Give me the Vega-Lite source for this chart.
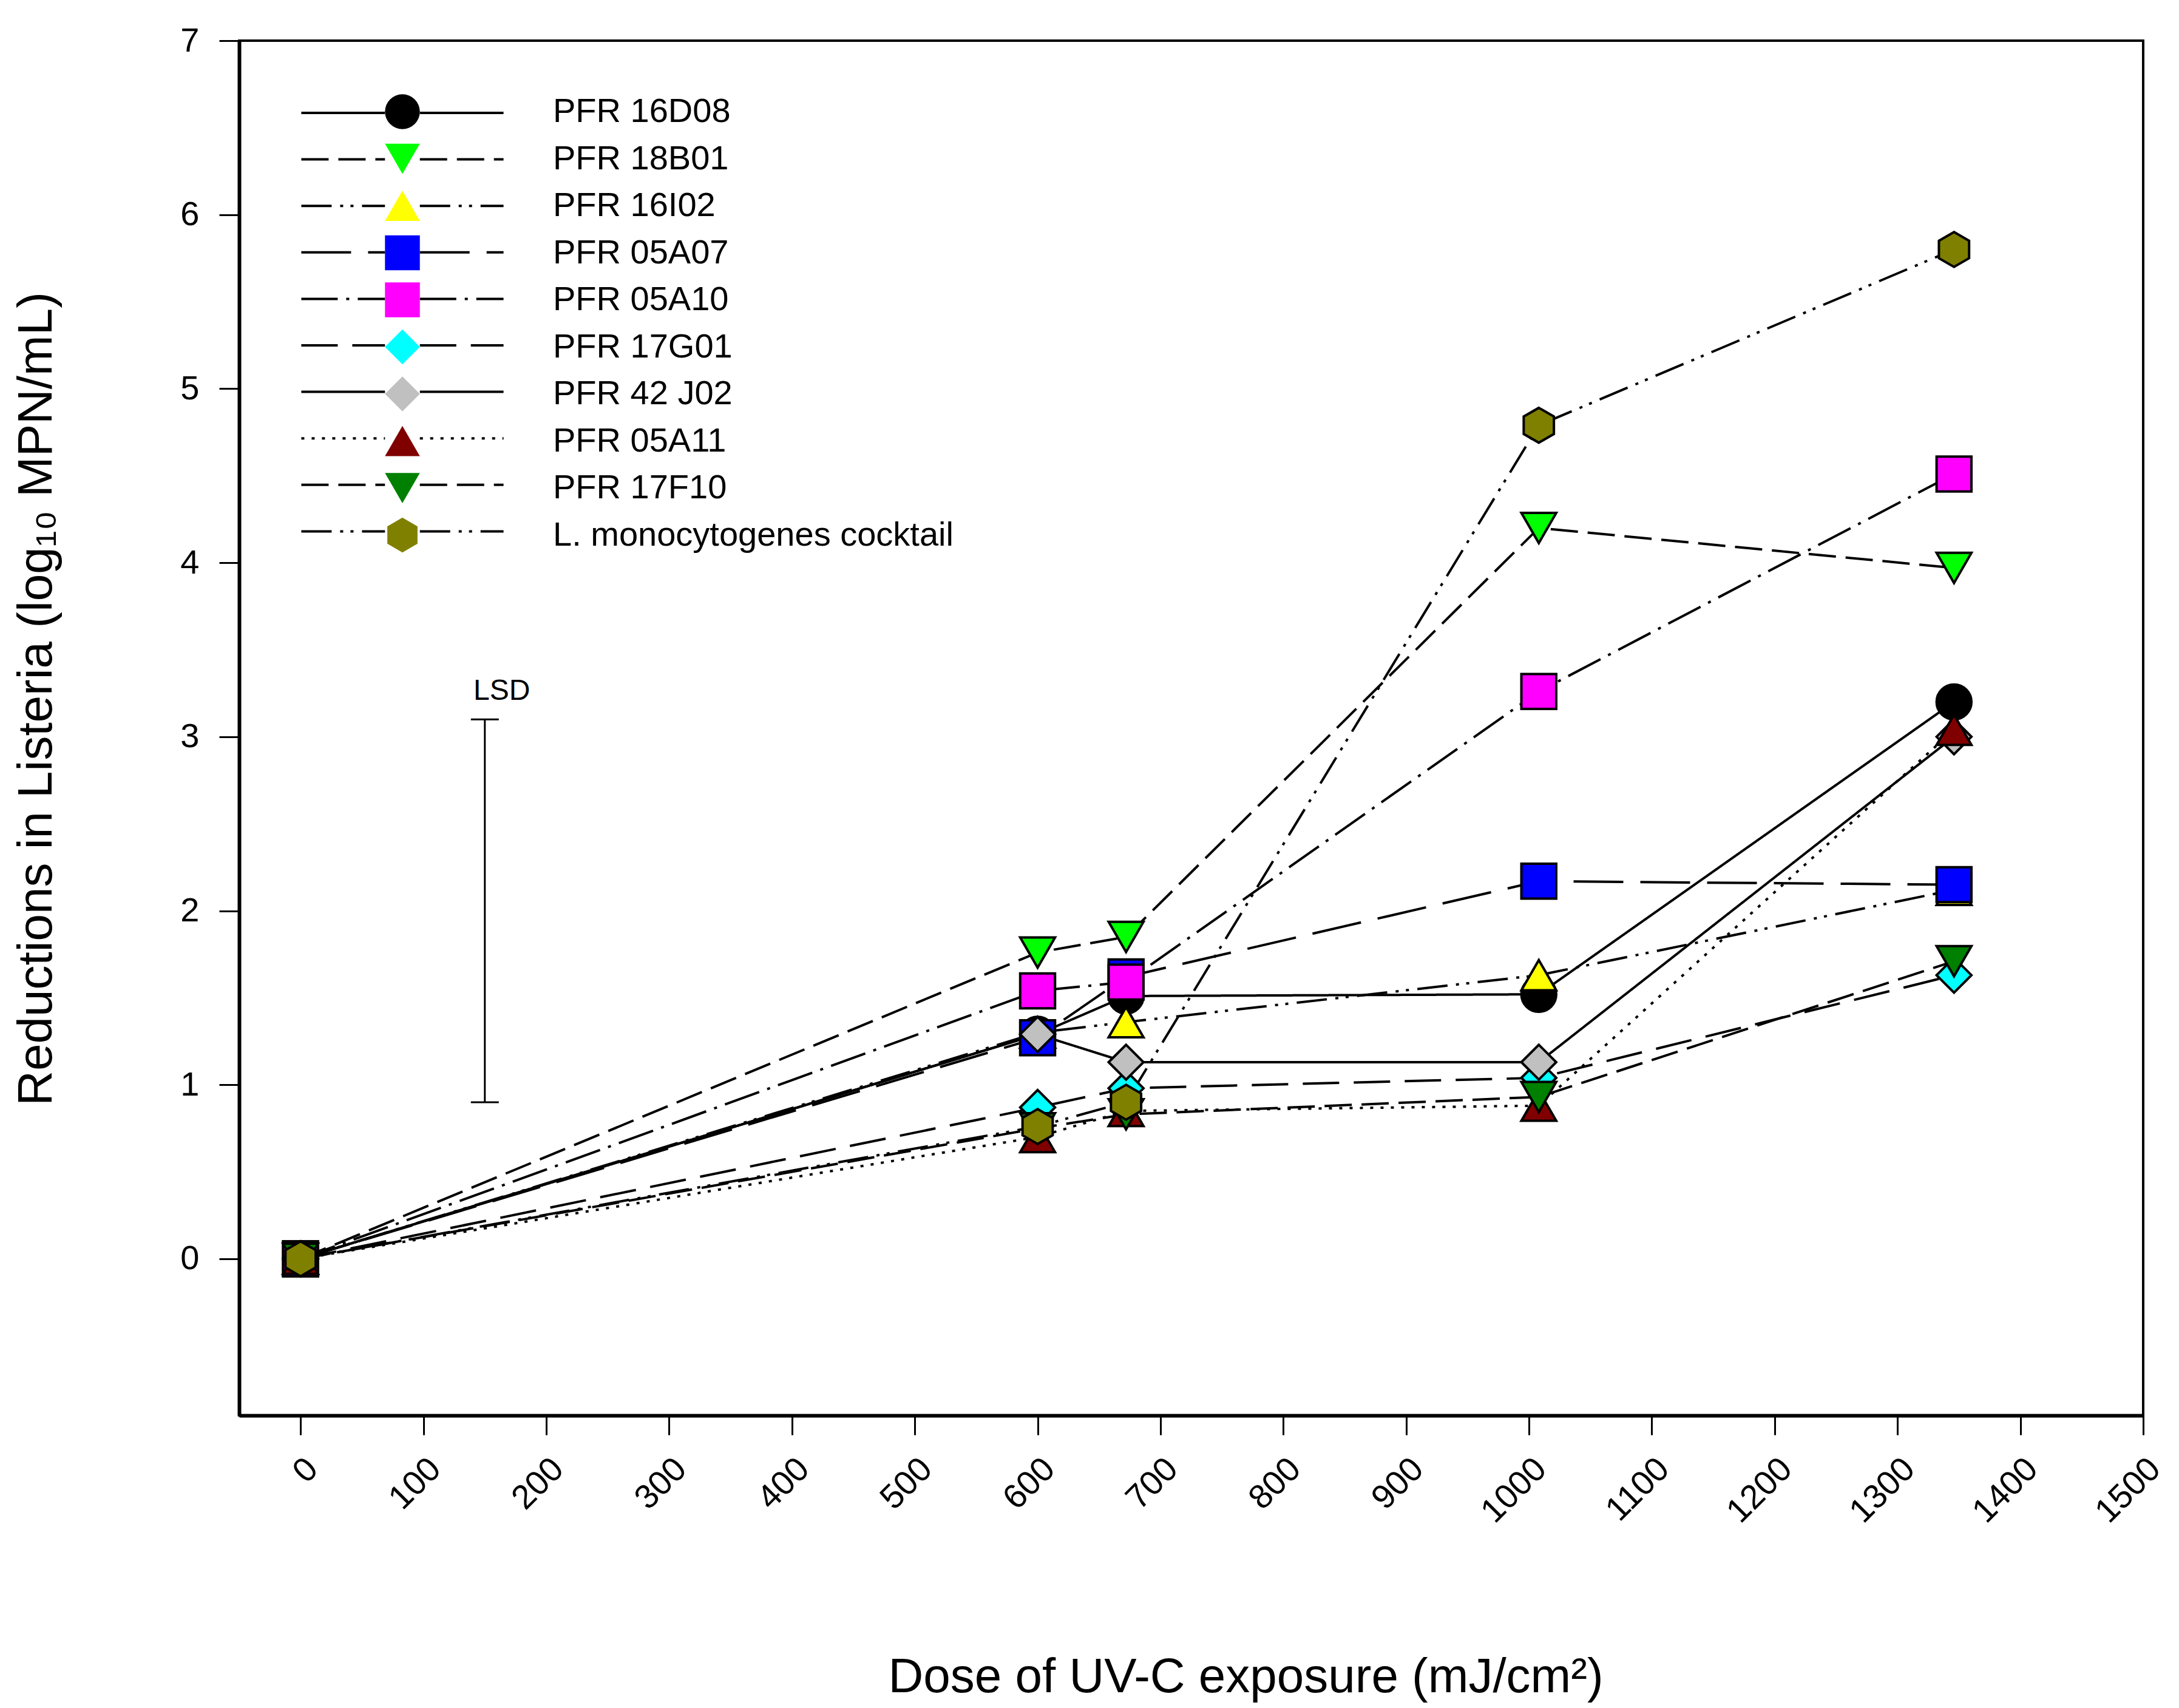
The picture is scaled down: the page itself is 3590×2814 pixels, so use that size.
{
  "$schema": "https://vega.github.io/schema/vega-lite/v6.json",
  "width": 3137,
  "height": 2265,
  "autosize": {"type": "none"},
  "padding": {"left": 394, "top": 67, "right": 59, "bottom": 482},
  "background": "white",
  "config": {
    "font": "Liberation Sans",
    "view": {"stroke": "black", "strokeWidth": 4},
    "axis": {"grid": false, "domainColor": "black", "domainWidth": 6, "tickColor": "black", "tickWidth": 3, "labelColor": "black", "titleColor": "black", "titleFontWeight": "normal", "labelFont": "Liberation Sans", "titleFont": "Liberation Sans"},
    "legend": {"labelFont": "Liberation Sans", "labelColor": "black", "labelLimit": 0}
  },
  "data": {"values": [
    {"strain": "PFR 16D08", "dose": 0, "reduction": 0},
    {"strain": "PFR 16D08", "dose": 600, "reduction": 1.29},
    {"strain": "PFR 16D08", "dose": 672, "reduction": 1.51},
    {"strain": "PFR 16D08", "dose": 1008, "reduction": 1.52},
    {"strain": "PFR 16D08", "dose": 1346, "reduction": 3.2},
    {"strain": "PFR 18B01", "dose": 0, "reduction": 0},
    {"strain": "PFR 18B01", "dose": 600, "reduction": 1.76},
    {"strain": "PFR 18B01", "dose": 672, "reduction": 1.85},
    {"strain": "PFR 18B01", "dose": 1008, "reduction": 4.2},
    {"strain": "PFR 18B01", "dose": 1346, "reduction": 3.97},
    {"strain": "PFR 16I02", "dose": 0, "reduction": 0},
    {"strain": "PFR 16I02", "dose": 600, "reduction": 1.3},
    {"strain": "PFR 16I02", "dose": 672, "reduction": 1.36},
    {"strain": "PFR 16I02", "dose": 1008, "reduction": 1.63},
    {"strain": "PFR 16I02", "dose": 1346, "reduction": 2.12},
    {"strain": "PFR 05A07", "dose": 0, "reduction": 0},
    {"strain": "PFR 05A07", "dose": 600, "reduction": 1.27},
    {"strain": "PFR 05A07", "dose": 672, "reduction": 1.62},
    {"strain": "PFR 05A07", "dose": 1008, "reduction": 2.17},
    {"strain": "PFR 05A07", "dose": 1346, "reduction": 2.15},
    {"strain": "PFR 05A10", "dose": 0, "reduction": 0},
    {"strain": "PFR 05A10", "dose": 600, "reduction": 1.54},
    {"strain": "PFR 05A10", "dose": 672, "reduction": 1.59},
    {"strain": "PFR 05A10", "dose": 1008, "reduction": 3.26},
    {"strain": "PFR 05A10", "dose": 1346, "reduction": 4.51},
    {"strain": "PFR 17G01", "dose": 0, "reduction": 0},
    {"strain": "PFR 17G01", "dose": 600, "reduction": 0.87},
    {"strain": "PFR 17G01", "dose": 672, "reduction": 0.98},
    {"strain": "PFR 17G01", "dose": 1008, "reduction": 1.04},
    {"strain": "PFR 17G01", "dose": 1346, "reduction": 1.63},
    {"strain": "PFR 42 J02", "dose": 0, "reduction": 0},
    {"strain": "PFR 42 J02", "dose": 600, "reduction": 1.29},
    {"strain": "PFR 42 J02", "dose": 672, "reduction": 1.13},
    {"strain": "PFR 42 J02", "dose": 1008, "reduction": 1.13},
    {"strain": "PFR 42 J02", "dose": 1346, "reduction": 3.0},
    {"strain": "PFR 05A11", "dose": 0, "reduction": 0},
    {"strain": "PFR 05A11", "dose": 600, "reduction": 0.7},
    {"strain": "PFR 05A11", "dose": 672, "reduction": 0.85},
    {"strain": "PFR 05A11", "dose": 1008, "reduction": 0.88},
    {"strain": "PFR 05A11", "dose": 1346, "reduction": 3.04},
    {"strain": "PFR 17F10", "dose": 0, "reduction": 0},
    {"strain": "PFR 17F10", "dose": 600, "reduction": 0.75},
    {"strain": "PFR 17F10", "dose": 672, "reduction": 0.83},
    {"strain": "PFR 17F10", "dose": 1008, "reduction": 0.93},
    {"strain": "PFR 17F10", "dose": 1346, "reduction": 1.71},
    {"strain": "L. monocytogenes cocktail", "dose": 0, "reduction": 0},
    {"strain": "L. monocytogenes cocktail", "dose": 600, "reduction": 0.76},
    {"strain": "L. monocytogenes cocktail", "dose": 672, "reduction": 0.9},
    {"strain": "L. monocytogenes cocktail", "dose": 1008, "reduction": 4.79},
    {"strain": "L. monocytogenes cocktail", "dose": 1346, "reduction": 5.8}
  ]},
  "encoding": {
    "x": {"field": "dose", "type": "quantitative",
      "scale": {"domain": [-50, 1500], "nice": false, "zero": false},
      "axis": {"values": [0,100,200,300,400,500,600,700,800,900,1000,1100,1200,1300,1400,1500], "format": "d",
        "title": "Dose of UV-C exposure (mJ/cm²)", "tickSize": 32, "labelAngle": -45, "labelFontSize": 56, "labelPadding": 28,
        "titleFontSize": 80, "titleX": 1658, "titleY": 455, "titleBaseline": "alphabetic", "titleAlign": "center", "labelFlush": false, "labelOverlap": false}},
    "y": {"field": "reduction", "type": "quantitative",
      "scale": {"domain": [-0.9, 7], "nice": false, "zero": false},
      "axis": {"values": [0,1,2,3,4,5,6,7], "title": "Reductions in Listeria (log₁₀ MPN/mL)", "tickSize": 33, "labelFontSize": 56, "labelPadding": 33,
        "titleFontSize": 80, "titleX": -310, "titleY": 1084, "titleBaseline": "alphabetic", "titleAlign": "center", "titleAngle": 270, "labelFlush": false, "labelOverlap": false}}
  },
  "layer": [
    {
      "mark": {"type": "line", "color": "black", "strokeWidth": 4},
      "encoding": {
        "strokeDash": {"field": "strain", "type": "nominal",
          "scale": {"domain": ["PFR 16D08","PFR 18B01","PFR 16I02","PFR 05A07","PFR 05A10","PFR 17G01","PFR 42 J02","PFR 05A11","PFR 17F10","L. monocytogenes cocktail"],
            "range": [[1,0],[45,16],[50,14,5,12,5,14],[82,28],[60,14,5,14],[60,24],[1,0],[5,12],[45,16],[50,14,5,12,5,14]]},
          "legend": {"orient": "none", "legendX": 238, "legendY": 88, "title": null, "symbolType": "M-5.8,0H-1M1,0H5.8", "symbolSize": 3300,
            "symbolStrokeWidth": 4, "symbolStrokeColor": "black", "symbolFillColor": "transparent", "labelExpr": "''", "labelFontSize": 56,
            "rowPadding": 17.6, "padding": 0, "symbolOffset": 0}}
      }
    },
    {
      "mark": {"type": "point", "filled": true, "stroke": "black", "strokeWidth": 4, "size": 3300, "opacity": 1},
      "encoding": {
        "shape": {"field": "strain", "type": "nominal", "sort": null,
          "scale": {"range": ["circle","triangle-down","triangle-up","square","square","diamond","diamond","triangle-up","triangle-down","M0,-1L0.866,-0.5L0.866,0.5L0,1L-0.866,0.5L-0.866,-0.5Z"]},
          "legend": {"orient": "none", "legendX": 238, "legendY": 86, "title": null, "symbolSize": 3300, "symbolStrokeWidth": 4, "symbolStrokeColor": "black",
            "symbolOpacity": 1, "labelFontSize": 56, "labelOffset": 217, "rowPadding": 3.5, "gridAlign": "all", "padding": 0, "symbolOffset": 0}},
        "fill": {"field": "strain", "type": "nominal", "sort": null,
          "scale": {"range": ["#000000","#00FF00","#FFFF00","#0000FF","#FF00FF","#00FFFF","#C0C0C0","#800000","#008000","#808000"]},
          "legend": {"orient": "none", "legendX": 238, "legendY": 86, "title": null, "symbolSize": 3300, "symbolStrokeWidth": 4, "symbolStrokeColor": "black",
            "symbolOpacity": 1, "labelFontSize": 56, "labelOffset": 217, "rowPadding": 3.5, "gridAlign": "all", "padding": 0, "symbolOffset": 0}}
      }
    },
    {
      "data": {"values": [{"dose": 150, "low": 0.9, "high": 3.1, "label": "LSD"}]},
      "layer": [
        {"mark": {"type": "rule", "color": "black", "strokeWidth": 3},
         "encoding": {"y": {"field": "low", "type": "quantitative"}, "y2": {"field": "high"}}},
        {"mark": {"type": "tick", "orient": "horizontal", "color": "black", "size": 46, "thickness": 3, "opacity": 1},
         "encoding": {"y": {"field": "low", "type": "quantitative"}}},
        {"mark": {"type": "tick", "orient": "horizontal", "color": "black", "size": 46, "thickness": 3, "opacity": 1},
         "encoding": {"y": {"field": "high", "type": "quantitative"}}},
        {"mark": {"type": "text", "color": "black", "fontSize": 48, "dx": 28, "dy": -32, "align": "center", "baseline": "alphabetic"},
         "encoding": {"y": {"field": "high", "type": "quantitative"}, "text": {"field": "label"}}}
      ]
    }
  ]
}
